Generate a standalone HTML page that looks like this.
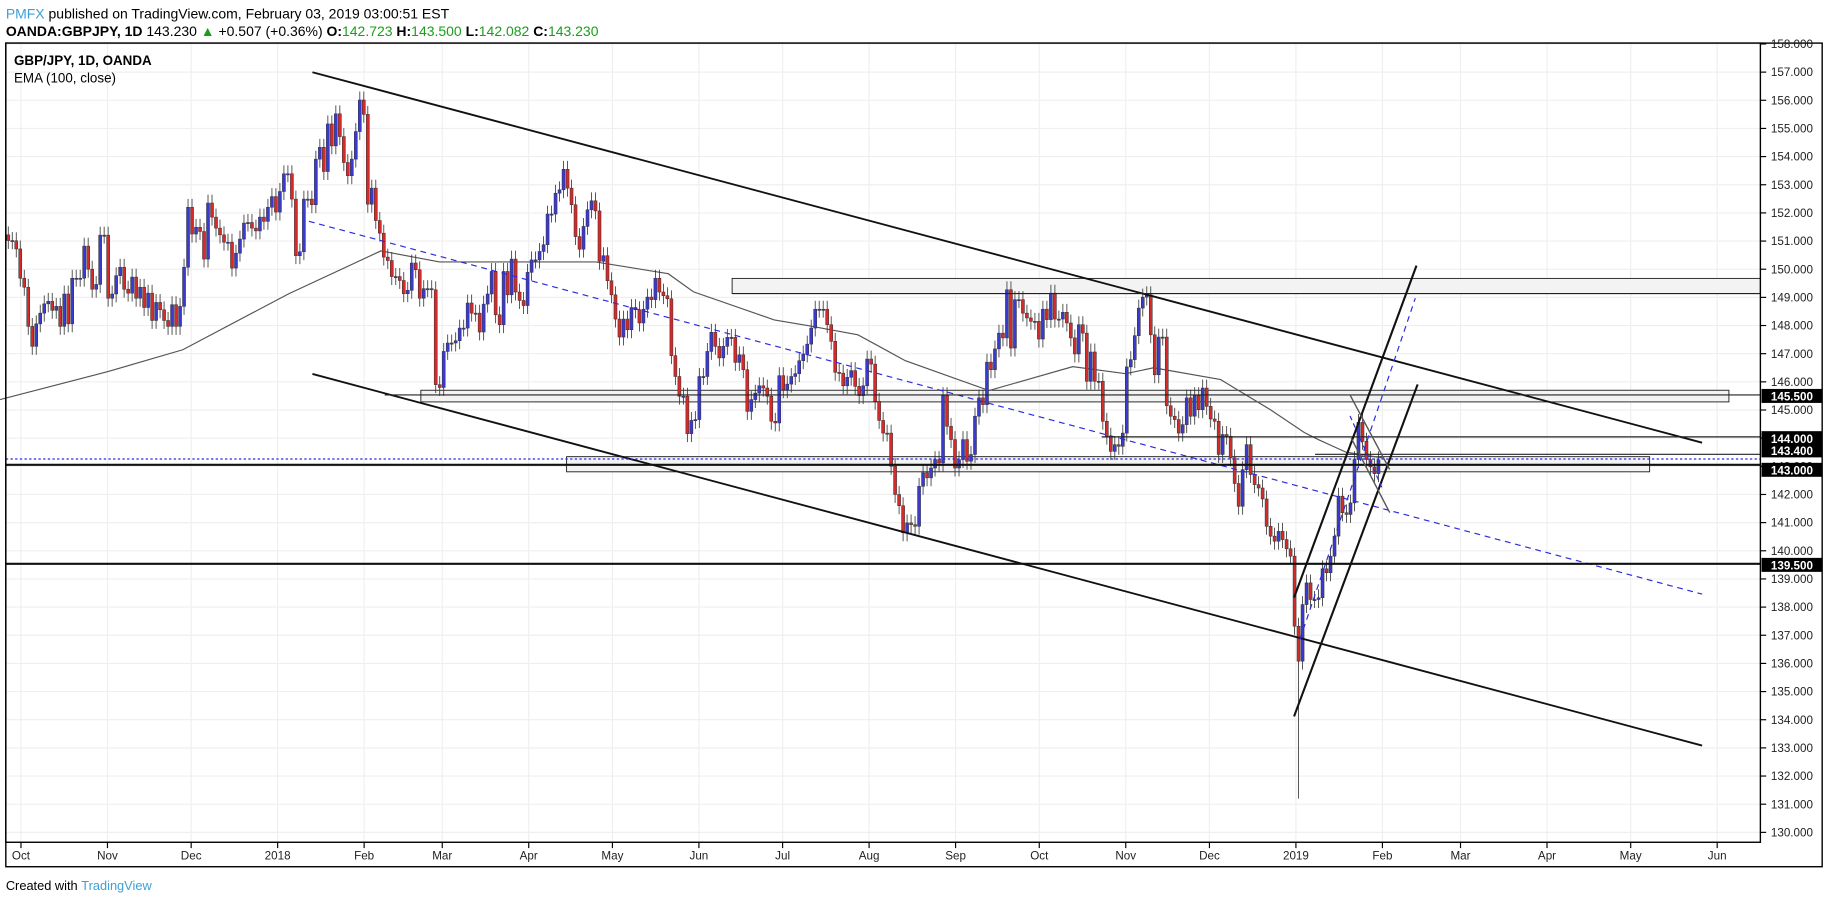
<!DOCTYPE html>
<html><head><meta charset="utf-8"><style>
html,body{margin:0;padding:0;background:#fff;}
svg{display:block;font-family:"Liberation Sans",sans-serif;}
</style></head><body>
<svg id="chart" width="1828" height="904" viewBox="0 0 1568 776" preserveAspectRatio="none" xmlns="http://www.w3.org/2000/svg">
<text x="5" y="16" font-size="12"><tspan fill="#3ca0d8">PMFX</tspan> published on TradingView.com, February 03, 2019 03:00:51 EST</text>
<text x="5" y="31" font-size="12"><tspan font-weight="bold">OANDA:GBPJPY, 1D</tspan> 143.230 <tspan fill="#1a9e1a">▲</tspan> +0.507 (+0.36%) <tspan font-weight="bold">O:</tspan><tspan fill="#1a9e1a">142.723</tspan> <tspan font-weight="bold">H:</tspan><tspan fill="#1a9e1a">143.500</tspan> <tspan font-weight="bold">L:</tspan><tspan fill="#1a9e1a">142.082</tspan> <tspan font-weight="bold">C:</tspan><tspan fill="#1a9e1a">143.230</tspan></text>
<rect x="5" y="37" width="1558" height="707" fill="none" stroke="#000" stroke-width="1.2"/>
<g id="grid"></g>
<g id="annot-back"></g>
<path id="ema" fill="none" stroke="#555" stroke-width="1"/>
<g id="candles"></g>
<g id="annot"></g>
<rect x="5" y="37" width="1505" height="686" fill="none" stroke="#000" stroke-width="1.2"/>
<g id="yaxis"></g>
<g id="xaxis"></g>
<text x="12" y="56" font-size="11.5" font-weight="bold">GBP/JPY, 1D, OANDA</text>
<text x="12" y="71" font-size="11.5">EMA (100, close)</text>
<text x="5" y="764" font-size="11">Created with <tspan fill="#3ca0d8">TradingView</tspan></text>
</svg>
<script>
const closes=[151.02,151.01,150.72,149.68,149.36,147.97,147.26,148.06,148.44,148.77,148.86,148.54,148.68,147.97,149.12,148.06,149.68,149.68,149.68,150.82,150.00,149.29,149.46,151.21,151.21,148.97,149.12,149.77,150.07,149.29,149.15,149.72,148.97,149.36,148.64,149.15,148.18,148.82,148.56,148.18,147.97,148.74,147.97,148.68,150.07,152.20,151.25,151.49,151.34,150.36,152.35,151.85,151.46,151.22,150.96,150.96,150.04,150.57,151.07,151.64,151.66,151.46,151.36,151.85,151.70,152.20,152.58,152.03,152.76,153.39,153.39,152.49,150.48,150.62,152.49,152.49,152.29,153.91,
154.33,153.47,155.16,154.38,155.52,154.71,153.79,153.32,153.91,154.89,156.01,155.50,152.31,152.88,151.73,151.28,150.43,150.31,149.74,149.74,149.60,149.13,149.25,150.22,149.98,148.97,149.31,149.31,149.27,145.90,145.80,
147.08,147.38,147.38,147.46,147.91,147.91,148.80,148.44,148.44,147.77,148.76,149.12,149.92,148.38,148.03,149.92,149.09,150.36,149.19,148.89,148.71,149.89,150.33,150.33,150.63,150.87,151.96,151.96,152.70,152.82,153.55,152.88,152.29,151.16,150.71,151.52,152.11,152.43,152.07,150.28,150.48,149.59,149.09,148.23,147.59,148.23,147.85,148.64,148.56,148.09,148.58,149.01,148.92,149.68,149.19,149.06,148.95,146.93,146.19,145.49,145.49,144.16,144.63,144.66,146.19,146.19,147.08,147.76,147.26,146.85,147.26,147.58,147.58,146.69,146.96,146.43,144.95,145.37,145.60,145.86,145.78,145.49,144.60,144.54,146.22,145.72,145.92,146.19,146.29,146.75,146.99,147.34,147.91,148.58,148.58,148.58,148.03,147.44,146.34,146.31,145.86,146.16,146.40,145.84,145.51,145.86,146.81,146.63,145.31,144.63,144.18,144.18,
143.0,142.0,141.6,
140.64,140.99,140.93,140.87,142.29,142.77,142.59,142.94,143.24,143.12,145.51,144.42,143.95,142.94,143.24,143.95,143.18,143.42,144.78,145.43,145.19,146.70,146.43,147.17,147.73,147.56,149.27,147.20,148.92,148.92,148.44,148.27,148.15,148.15,147.52,148.58,148.21,149.15,148.23,148.23,148.47,148.09,147.56,146.99,148.03,147.73,146.02,147.06,146.02,146.02,144.60,144.07,143.53,143.77,143.71,144.18,146.53,146.79,147.64,148.62,149.01,149.09,147.67,146.25,147.59,147.59,145.15,144.78,144.66,144.18,144.48,145.43,144.78,145.51,145.01,145.78,145.13,144.68,144.60,143.42,144.13,144.07,143.30,142.39,141.58,142.88,143.77,142.71,142.35,142.23,141.84,140.87,140.52,140.34,140.69,140.40,140.07,139.81,
137.32,136.08,138.09,138.86,138.27,138.27,138.33,139.36,139.22,139.81,140.52,141.94,141.35,141.29,141.70,143.24,144.56,143.89,143.24,142.98,142.74,143.23];
const flashCrashLow=131.2;
const emaDays=[-7.5,31,58,96,129,150,206,232,241,270,282,300,317,347,377,396,406,430,448,460,465,475,488];
const emaVals=[145.37,146.36,147.14,149.13,150.65,150.26,150.26,149.84,149.2,148.2,148.0,147.67,146.75,145.69,146.54,146.29,146.5,146.08,145.0,144.2,143.95,143.5,143.3];
const monthDays=[0,31,61,92,123,151,182,212,243,273,304,335,365,396,426,457,488,516,547,577,608];
const monthLabels=["Oct","Nov","Dec","2018","Feb","Mar","Apr","May","Jun","Jul","Aug","Sep","Oct","Nov","Dec","2019","Feb","Mar","Apr","May","Jun"];
const priceTicks=[158,157,156,155,154,153,152,151,150,149,148,147,146,145,144,143,142,141,140,139,138,137,136,135,134,133,132,131,130];
const badgeVals=[145.5,144.0,143.4,143.0,139.5];
const badgeLabels=["145.500","144.000","143.400","143.000","139.500"];

const NS="http://www.w3.org/2000/svg";
const X=d=>18+d*2.393;
const Y=p=>37.74+(158-p)*24.17;
const XI=i=>7.1+i*(1175.3/(closes.length-1));
function mk(tag,attrs,parent){const e=document.createElementNS(NS,tag);for(const k in attrs)e.setAttribute(k,attrs[k]);parent.appendChild(e);return e;}
const grid=document.getElementById('grid'),yax=document.getElementById('yaxis'),xax=document.getElementById('xaxis');
priceTicks.forEach(p=>{
 const y=Y(p);
 if(y>37&&y<722){const l=mk('line',{x1:5,x2:1510,y1:y,y2:y,stroke:'#efefef'},grid);
 
 }
 const t=mk('line',{x1:1510,x2:1515,y1:y,y2:y,stroke:'#000'},yax);
 
 
 const tx=mk('text',{x:1519,y:y+3.5,'font-size':10,fill:'#222'},yax);tx.textContent=p.toFixed(3);
 
 
});
monthDays.forEach((d,i)=>{
 const x=X(d);
 const l=mk('line',{x1:x,x2:x,y1:37,y2:723,stroke:'#efefef'},grid);
 
 
 const t=mk('line',{x1:x,x2:x,y1:723,y2:728,stroke:'#000'},xax);
 
 
 const tx=mk('text',{x:x,y:738,'font-size':10,'text-anchor':'middle',fill:'#222'},xax);tx.textContent=monthLabels[i];
 
 
});
document.getElementById('ema').setAttribute('d',emaDays.map((d,i)=>(i?'L':'M')+X(d)+','+Y(emaVals[i])).join(' '));
const cg=document.getElementById('candles');
const minClose=Math.min(...closes);
closes.forEach((c,i)=>{
 const o=i?closes[i-1]:c+0.2;
 const hi=Math.max(o,c)+0.3, lo=(c===minClose)?flashCrashLow:Math.min(o,c)-0.3;
 const x=XI(i);
 const w=mk('line',{x1:x,x2:x,y1:Y(hi),y2:Y(lo),stroke:'#333','stroke-width':0.7},cg);
 
 
 const top=Y(Math.max(o,c)),h=Math.max(1,Math.abs(Y(o)-Y(c)));
 const b=mk('rect',{x:x-1.3,y:top,width:2.6,height:h,fill:c>=o?'#3a3ad0':'#d62a2a',stroke:'#333','stroke-width':0.45},cg);
 
 
});
const zb=document.getElementById('annot-back');
[[628,239,882,13],[361,335,1122,10],[486,392,929,13]].forEach(r=>{
 const e=mk('rect',{x:r[0],y:r[1],width:r[2],height:r[3],fill:'#f3f3f3',stroke:'#222','stroke-width':0.8},zb);
 
 
});
const an=document.getElementById('annot');
const lines=[
 [268,62,1460,380,1.6,'#111',''],[268,321,1460,640,1.6,'#111',''],
 [265,190,1460,510,1,'#2a2ae0','5,4'],
 [628,252,1510,252,1,'#222',''],[330,339,1510,339,1,'#222',''],
 [945,375,1510,375,1,'#222',''],[1128,390,1510,390,1,'#222',''],
 [5,399,1510,399,1.8,'#111',''],[5,394,1510,394,1,'#2a2ae0','2,2'],
 [5,484,1510,484,1.8,'#111',''],
 [1110,513,1215,228,1.8,'#111',''],[1110,615,1216,330,1.8,'#111',''],
 [1115,549,1214,256,1,'#2a2ae0','5,4'],
 [1158,339,1192,403,1.2,'#555',''],[1159,376,1192,440,1.2,'#555',''],
 [1158,357,1186,420,1,'#2a2ae0','4,3']
];
lines.forEach(l=>{
 const e=mk('line',{x1:l[0],y1:l[1],x2:l[2],y2:l[3],stroke:l[5],'stroke-width':l[4]},an);
 if(l[6])e.setAttribute('stroke-dasharray',l[6]);
 
 
});
badgeVals.forEach((v,i)=>{
 const y=Y(v)+(i===2?-4:i===3?3:0);
 const r=mk('rect',{x:1511,y:y-6,width:52,height:12,fill:'#000'},yax);
 
 
 const t=mk('text',{x:1519,y:y+4,'font-size':10,'font-weight':'bold',fill:'#fff'},yax);t.textContent=badgeLabels[i];
 
 
});
</script>
</body></html>
